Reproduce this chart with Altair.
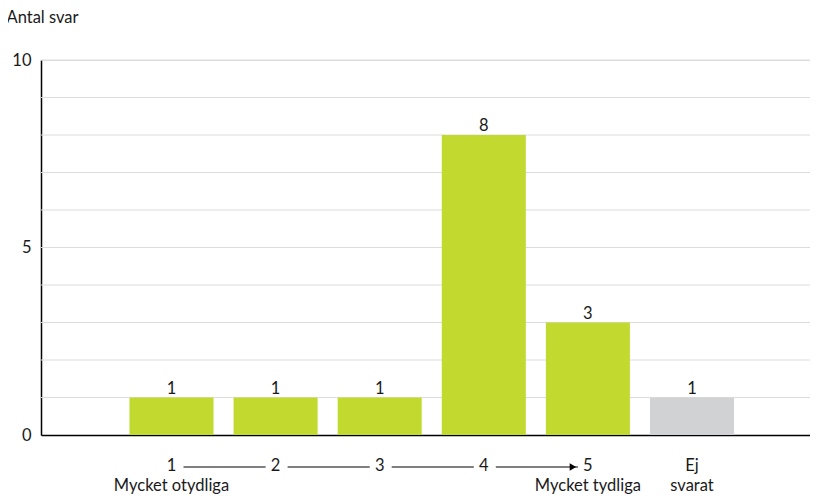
import altair as alt
import pandas as pd

categories = ["1", "2", "3", "4", "5", "Ej svarat"]
values = [1, 1, 1, 8, 3, 1]
groups = ["svar", "svar", "svar", "svar", "svar", "ej"]
axis_nums = ["1", "2", "3", "4", "5", "Ej"]
axis_sub_cats = ["1", "5", "Ej svarat"]
axis_sub_text = ["Mycket otydliga", "Mycket tydliga", "svarat"]
line_from = ["1", "2", "3", "4"]
line_to = ["2", "3", "4", "5"]
grid_values = [1, 2, 3, 4, 5, 6, 7, 8, 9, 10]
tick_labels = [0, 5, 10]
y_title = "Antal svar"

FONT = "Lato"
FS = 16.5
GREEN = "#c2d92f"
GREY = "#d1d2d4"
INK = "#1a1a1a"

df = pd.DataFrame({"cat": categories, "val": values, "grp": groups})
df_nums = pd.DataFrame({"cat": categories, "lab": axis_nums})
df_sub = pd.DataFrame({"cat": axis_sub_cats, "lab": axis_sub_text})
df_lines = pd.DataFrame({"a": line_from, "b": line_to})
df_arrow = pd.DataFrame({"cat": [line_to[-1]]})
df_grid = pd.DataFrame({"g": grid_values})

xscale = alt.Scale(domain=categories, paddingInner=0.193, paddingOuter=0.79, align=0.538)
yscale = alt.Scale(domain=[0, 10], nice=False)

x_axis = alt.Axis(labels=False, ticks=False, title=None, domain=True,
                  domainColor="#000000", domainWidth=1.5, grid=False)
y_axis = alt.Axis(values=tick_labels, ticks=False, grid=False, labelOverlap=False,
                  labelPadding=10, labelFont=FONT, labelFontSize=FS,
                  labelColor=INK, domainColor="#000000", domainWidth=1.5,
                  title=y_title, titleAngle=0, titleAlign="left",
                  titleBaseline="alphabetic", titleX=-35, titleY=-38,
                  titleFont=FONT, titleFontSize=FS, titleFontWeight="normal",
                  titleColor=INK)

grid = alt.Chart(df_grid).mark_rule(color="#dcdcdc", strokeWidth=1).encode(
    y=alt.Y("g:Q", scale=yscale, axis=y_axis),
)

bars = alt.Chart(df).mark_bar().encode(
    x=alt.X("cat:N", scale=xscale, sort=categories, axis=x_axis),
    y=alt.Y("val:Q", scale=yscale, axis=y_axis),
    color=alt.Color("grp:N", scale=alt.Scale(domain=["svar", "ej"], range=[GREEN, GREY]),
                    legend=None),
)

val_text = alt.Chart(df).mark_text(baseline="alphabetic", dy=-4, font=FONT,
                                   fontSize=FS, color=INK).encode(
    x=alt.X("cat:N", scale=xscale, sort=categories, axis=x_axis),
    y=alt.Y("val:Q", scale=yscale, axis=y_axis),
    text="val:Q",
)

nums = alt.Chart(df_nums).mark_text(baseline="middle", font=FONT, fontSize=FS,
                                    color=INK).encode(
    x=alt.X("cat:N", scale=xscale, sort=categories, axis=x_axis),
    y=alt.value(406),
    text="lab:N",
)

subs = alt.Chart(df_sub).mark_text(baseline="middle", font=FONT, fontSize=FS,
                                   color=INK).encode(
    x=alt.X("cat:N", scale=xscale, sort=categories, axis=x_axis),
    y=alt.value(426),
    text="lab:N",
)

lines = alt.Chart(df_lines).mark_rule(color="#000000", strokeWidth=1.2,
                                      xOffset=12, x2Offset=-10).encode(
    x=alt.X("a:N", scale=xscale, sort=categories, axis=x_axis),
    x2="b:N",
    y=alt.value(407),
)

arrow = alt.Chart(df_arrow).mark_point(shape="triangle-right", filled=True,
                                       color="#000000", size=55, opacity=1,
                                       xOffset=-15).encode(
    x=alt.X("cat:N", scale=xscale, sort=categories, axis=x_axis),
    y=alt.value(407),
)

chart = alt.layer(grid, bars, val_text, nums, subs, lines, arrow).properties(
    width=769, height=375,
    autosize=alt.AutoSizeParams(type="none"),
    padding={"left": 33, "top": 52, "right": 0, "bottom": 60},
).configure_view(stroke=None).configure(background="#ffffff")

chart.save("out.html", embed_options={"renderer": "svg", "actions": False})
